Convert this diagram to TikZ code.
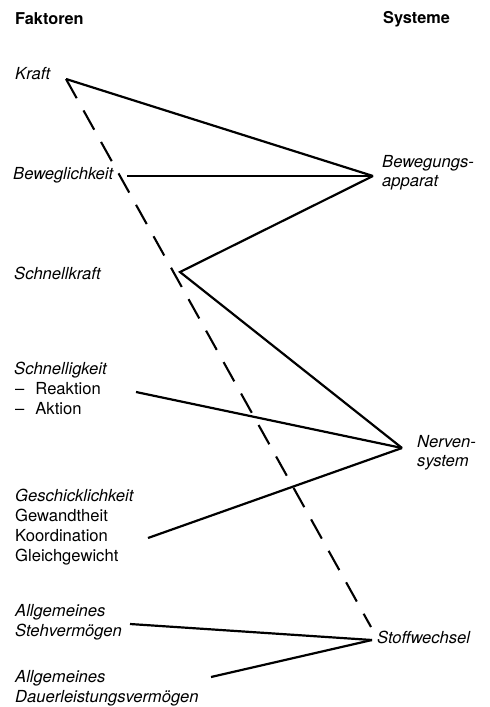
\documentclass[tikz,border=0pt]{standalone}
\usepackage{fontspec}
\setmainfont{TeX Gyre Heros}
\begin{document}
\begin{tikzpicture}[x=1pt,y=-1pt,
  lbl/.style={anchor=base west,inner sep=0pt,font=\fontsize{16.6}{20}\selectfont},
  fak/.style={lbl,font=\fontsize{16.6}{20}\selectfont\itshape},
  head/.style={lbl,font=\fontsize{16.3}{20}\selectfont\bfseries},
  link/.style={line width=2.2pt,line join=miter},
  dlink/.style={line width=2.1pt,dash pattern=on 22pt off 14pt}]
\useasboundingbox (0,0) rectangle (490,707);
% headings
\node[head] (hf) at (15,24) {Faktoren};
\node[head] (hs) at (383,23) {Systeme};
% factors
\node[fak] (kraft) at (15,79) {Kraft};
\node[fak] (bew) at (13,179) {Beweglichkeit};
\node[fak] (sk) at (14,279) {Schnellkraft};
\node[fak] (sg) at (14,374) {Schnelligkeit};
\node[lbl] (sg2) at (15,394) {–\hspace{11pt}Reaktion};
\node[lbl] (sg3) at (15,414) {–\hspace{11pt}Aktion};
\node[fak] (ge) at (15,501) {Geschicklichkeit};
\node[lbl] (ge2) at (15,521) {Gewandtheit};
\node[lbl] (ge3) at (15,541) {Koordination};
\node[lbl] (ge4) at (15,561) {Gleichgewicht};
\node[fak] (st1) at (15,616) {Allgemeines};
\node[fak] (st2) at (15,636) {Stehvermögen};
\node[fak] (da1) at (15,682) {Allgemeines};
\node[fak] (da2) at (15,702) {Dauerleistungsvermögen};
% systems
\node[fak] (ba1) at (382,167) {Bewegungs-};
\node[fak] (ba2) at (382,186) {apparat};
\node[fak] (ns1) at (417,447) {Nerven-};
\node[fak] (ns2) at (417,466) {system};
\node[fak] (sw) at (377,643) {Stoffwechsel};
% connector points
\coordinate (kv) at (66,79);
\coordinate (bav) at (373,176);
\coordinate (bewv) at (127,176);
\coordinate (skv) at (180,272);
\coordinate (nsv) at (402,448);
\coordinate (sgv) at (136,392);
\coordinate (gev) at (148,538);
\coordinate (swv) at (372,640);
\coordinate (stv) at (130,624);
\coordinate (dav) at (211,677);
\coordinate (dend) at (371,627);
% connectors
\draw[link] (kv) -- (bav);
\draw[link] (bewv) -- (bav);
\draw[link] (bav) -- (skv) -- (nsv);
\draw[link] (sgv) -- (nsv);
\draw[link] (gev) -- (nsv);
\draw[link] (stv) -- (swv);
\draw[link] (dav) -- (swv);
\draw[dlink] (kv) -- (dend);
\end{tikzpicture}
\end{document}
